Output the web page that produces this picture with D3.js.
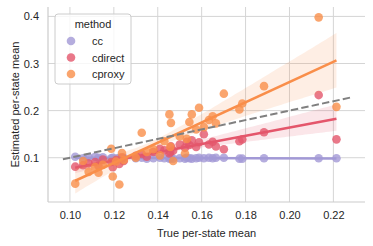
<!DOCTYPE html>
<html><head><meta charset="utf-8">
<script src="https://cdn.jsdelivr.net/npm/d3@7"></script>
<style>
html,body{margin:0;padding:0;background:#fff;}
svg{display:block;font-family:"Liberation Sans",Arial,sans-serif;}
</style></head>
<body><div id="chart"></div>
<script>
const methods = ["cc","cdirect","cproxy"];
const lineColors = ["#a299d6","#e4566b","#f98e4a"];
const trueMean = [0.1024,0.1060,0.1085,0.1115,0.1130,0.1150,0.1188,0.1195,0.1210,0.1225,0.1237,0.1245,0.1300,0.1327,0.1350,0.1380,0.1410,0.1430,0.1453,0.1457,0.1460,0.1470,0.1500,0.1524,0.1532,0.1544,0.1555,0.1575,0.1588,0.1610,0.1633,0.1650,0.1665,0.1701,0.1772,0.1785,0.1884,0.2133,0.2214];
const ccEst = [0.102,0.099,0.101,0.102,0.100,0.101,0.099,0.100,0.098,0.100,0.099,0.100,0.099,0.100,0.098,0.099,0.100,0.099,0.098,0.099,0.100,0.098,0.099,0.098,0.100,0.099,0.098,0.099,0.100,0.099,0.100,0.099,0.100,0.100,0.098,0.098,0.099,0.099,0.099];
const cdirectEst = [0.081,0.084,0.088,0.091,0.083,0.096,0.091,0.080,0.095,0.087,0.101,0.093,0.104,0.108,0.102,0.112,0.119,0.116,0.109,0.112,0.124,0.115,0.128,0.121,0.134,0.127,0.137,0.123,0.133,0.150,0.128,0.134,0.124,0.118,0.135,0.139,0.154,0.233,0.139];
const cproxyEst = [0.045,0.093,0.070,0.080,0.068,0.085,0.119,0.060,0.092,0.043,0.110,0.095,0.100,0.153,0.112,0.118,0.105,0.135,0.192,0.123,0.174,0.093,0.145,0.109,0.140,0.176,0.192,0.160,0.206,0.165,0.180,0.188,0.173,0.236,0.2025,0.215,0.252,0.398,0.208];
const xTicks = [0.10,0.12,0.14,0.16,0.18,0.20,0.22];
const yTicks = [0.1,0.2,0.3,0.4];
const identityRange = [0.0968,0.2285];

const W=373,H=246, m={l:48,r:8,t:7,b:44};
const svg=d3.select("#chart").append("svg").attr("width",W).attr("height",H);
const x=d3.scaleLinear().domain([0.09,0.2344]).range([m.l,W-m.r]);
const y=d3.scaleLinear().domain([0.006,0.42]).range([H-m.b,m.t]);

svg.append("g").selectAll("line").data(xTicks).join("line")
 .attr("x1",d=>x(d)).attr("x2",d=>x(d)).attr("y1",m.t).attr("y2",H-m.b)
 .attr("stroke","#d5d5d5").attr("stroke-width",1);
svg.append("g").selectAll("line").data(yTicks).join("line")
 .attr("x1",m.l).attr("x2",W-m.r).attr("y1",d=>y(d)).attr("y2",d=>y(d))
 .attr("stroke","#d5d5d5").attr("stroke-width",1);
svg.append("line").attr("x1",m.l).attr("x2",m.l).attr("y1",m.t).attr("y2",H-m.b).attr("stroke","#cccccc").attr("stroke-width",1.2);
svg.append("line").attr("x1",m.l).attr("x2",W-m.r).attr("y1",H-m.b).attr("y2",H-m.b).attr("stroke","#cccccc").attr("stroke-width",1.2);

const xAxis=svg.append("g").attr("transform",`translate(0,${H-m.b})`)
 .call(d3.axisBottom(x).tickValues(xTicks).tickFormat(d3.format(".2f")).tickSize(0).tickPadding(9));
const yAxis=svg.append("g").attr("transform",`translate(${m.l},0)`)
 .call(d3.axisLeft(y).tickValues(yTicks).tickFormat(d3.format(".1f")).tickSize(0).tickPadding(9));
[xAxis,yAxis].forEach(g=>{g.select(".domain").remove();
 g.selectAll("text").attr("font-size",11).attr("fill","#262626").attr("font-family","Liberation Sans, Arial, sans-serif");});

svg.append("text").attr("x",(m.l+W-m.r)/2).attr("y",237).attr("text-anchor","middle")
 .attr("font-size",11).attr("fill","#262626").text("True per-state mean");
svg.append("text").attr("transform",`translate(15,${(m.t+H-m.b)/2}) rotate(-90)`).attr("text-anchor","middle")
 .attr("dominant-baseline","central").attr("font-size",11).attr("fill","#262626").text("Estimated per-state mean");

const series=[ccEst,cdirectEst,cproxyEst];
function fit(xs,ys){
 const mx=d3.mean(xs), my=d3.mean(ys);
 let sxx=0,sxy=0; xs.forEach((v,i)=>{sxx+=(v-mx)**2; sxy+=(v-mx)*(ys[i]-my);});
 const b=sxx>0?sxy/sxx:0; return {a:my-b*mx,b};
}
const xmin=d3.min(trueMean), xmax=d3.max(trueMean);
const grid=d3.range(0,101).map(i=>xmin+(xmax-xmin)*i/100);

series.forEach((vals,k)=>{
 const f=fit(trueMean,vals);
 // bootstrap confidence band (deterministic generator)
 const rnd=d3.randomInt.source(d3.randomLcg(0.42+k*0.1))(trueMean.length);
 const boots=[];
 for(let r=0;r<600;r++){
  const idx=trueMean.map(()=>rnd());
  boots.push(fit(idx.map(i=>trueMean[i]),idx.map(i=>vals[i])));
 }
 const band=grid.map(v=>{const ys=boots.map(bf=>bf.a+bf.b*v).sort(d3.ascending);
   return [v,d3.quantileSorted(ys,0.025),d3.quantileSorted(ys,0.975)];});
 const g=svg.append("g");
 g.append("path").datum(band).attr("d",d3.area().x(d=>x(d[0])).y0(d=>y(d[1])).y1(d=>y(d[2])))
  .attr("fill",lineColors[k]).attr("fill-opacity",0.15);
 g.selectAll("circle").data(trueMean.map((v,i)=>[v,vals[i]])).join("circle")
  .attr("cx",d=>x(d[0])).attr("cy",d=>y(d[1])).attr("r",4.3)
  .attr("fill",lineColors[k]).attr("fill-opacity",0.8);
 g.append("path").datum([xmin,xmax]).attr("d",d3.line().x(v=>x(v)).y(v=>y(f.a+f.b*v)))
  .attr("stroke",lineColors[k]).attr("stroke-width",2.5).attr("fill","none");
});

svg.append("path").datum(identityRange).attr("d",d3.line().x(v=>x(v)).y(v=>y(v)))
 .attr("stroke","#808080").attr("stroke-width",2).attr("stroke-dasharray","7.4,3.2").attr("fill","none");

const lg=svg.append("g");
lg.append("rect").attr("x",55).attr("y",14).attr("width",76).attr("height",70).attr("rx",3)
 .attr("fill","#fff").attr("fill-opacity",0.8).attr("stroke","#cccccc").attr("stroke-width",1);
lg.append("text").attr("x",93).attr("y",28).attr("text-anchor","middle").attr("font-size",11).attr("fill","#262626").text("method");
methods.forEach((mm,k)=>{
 const yy=41+k*16.5;
 lg.append("circle").attr("cx",71).attr("cy",yy).attr("r",4.3).attr("fill",lineColors[k]).attr("fill-opacity",0.8);
 lg.append("text").attr("x",92).attr("y",yy+4).attr("font-size",11).attr("fill","#262626").text(mm);
});
</script></body></html>
